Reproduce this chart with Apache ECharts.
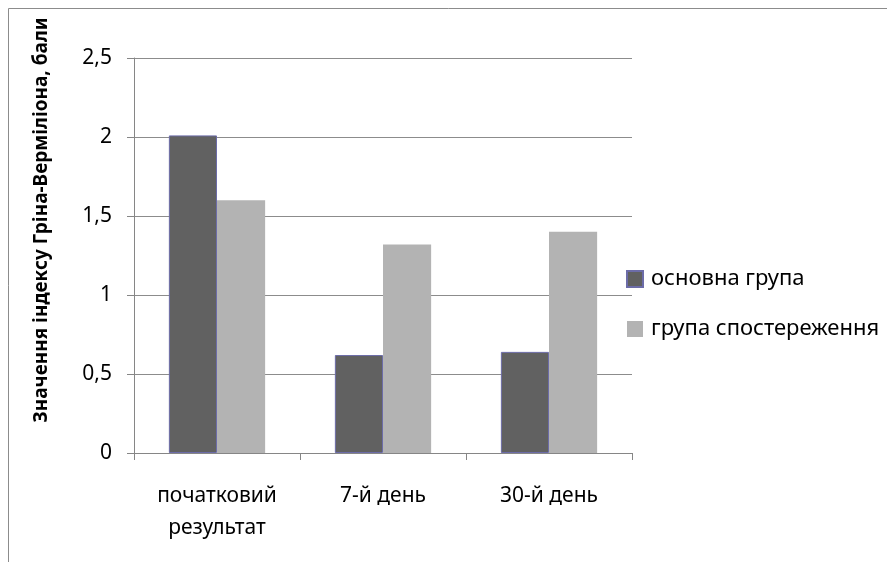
<!DOCTYPE html>
<html><head><meta charset="utf-8">
<script src="https://cdn.jsdelivr.net/npm/echarts@6/dist/echarts.min.js"></script>
<style>html,body{margin:0;padding:0;background:#fff}#c{width:887px;height:562px}</style>
</head><body><div id="c"></div>
<script>
const categories = ['початковий\nрезультат', '7-й день', '30-й день'];
const mainGroup = [2.01, 0.62, 0.64];
const controlGroup = [1.6, 1.32, 1.4];
const seriesNames = ['основна група', 'група спостереження'];
const yAxisTitle = 'Значення індексу Гріна-Верміліона, бали';

const font = '"Noto Sans", "Open Sans", sans-serif';
const chart = echarts.init(document.getElementById('c'));
chart.setOption({
  animation: false,
  backgroundColor: '#fff',
  textStyle: { fontFamily: font },
  graphic: [
    { type: 'rect', shape: { x: 8.5, y: 8.5, width: 900, height: 560 }, style: { fill: 'none', stroke: '#8c8c8c', lineWidth: 1 }, z: -1 },
    { type: 'text', x: 42, y: 220, rotation: Math.PI / 2, style: { text: yAxisTitle, fontFamily: font, fontSize: 19, fontWeight: 'bold', fill: '#000', align: 'center', verticalAlign: 'middle' } }
  ],
  legend: {
    orient: 'vertical', left: 621, top: 262, itemGap: 26, itemWidth: 16, itemHeight: 16,
    icon: 'rect',
    textStyle: { fontFamily: font, fontSize: 22, lineHeight: 24, color: '#000', padding: [0, 0, 0, 3] },
    data: seriesNames
  },
  grid: { left: 134, right: 255, top: 58, bottom: 109, containLabel: false },
  xAxis: {
    type: 'category', data: categories,
    axisLine: { lineStyle: { color: '#868686' } },
    axisTick: { show: true, length: 7, lineStyle: { color: '#868686' } },
    axisLabel: { fontFamily: font, fontSize: 21, color: '#000', margin: 27, lineHeight: 32 }
  },
  yAxis: {
    type: 'value', min: 0, max: 2.5, interval: 0.5,
    axisLine: { show: true, lineStyle: { color: '#868686' } },
    axisTick: { show: true, length: 7, lineStyle: { color: '#868686' } },
    splitLine: { lineStyle: { color: '#8c8c8c' } },
    axisLabel: { fontFamily: font, fontSize: 21, color: '#000', margin: 22, formatter: v => String(v).replace('.', ',') }
  },
  series: [
    { name: seriesNames[0], type: 'bar', data: mainGroup, barGap: '0%', barCategoryGap: '42%',
      itemStyle: { color: '#616161', borderColor: '#6c6ca8', borderWidth: 1 } },
    { name: seriesNames[1], type: 'bar', data: controlGroup, barGap: '0%', barCategoryGap: '42%',
      itemStyle: { color: '#b3b3b3' } }
  ]
});
</script></body></html>
